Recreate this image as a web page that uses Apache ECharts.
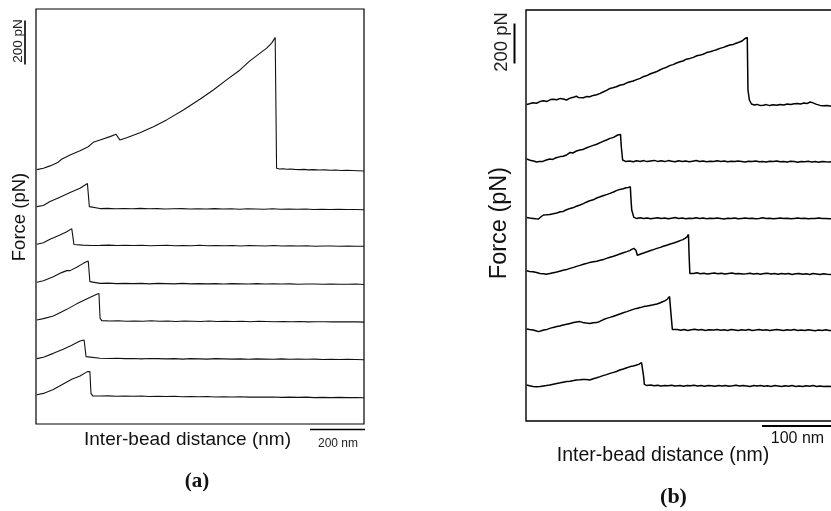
<!DOCTYPE html>
<html>
<head>
<meta charset="utf-8">
<script src="https://cdn.jsdelivr.net/npm/echarts@6/dist/echarts.min.js"></script>
<style>
html,body{margin:0;padding:0;background:#fff;overflow:hidden;width:831px;height:511px;}
#c{width:880px;height:511px;}
</style>
</head>
<body>
<div id="c"></div>
<script>
// ---------- Panel (a): force curves (x: nm, y: pN relative to curve start) ----------
const offsetsA = [1156, 988, 817, 644, 473, 297, 133];
const curveA1 = [[3,0],[27,6],[51,17],[81,34],[93,47],[124,67],[160,86],[190,104],[208,124],[233,135],[269,150],[291,161],[296,156],[305,135],[330,145],[378,168],[427,195],[475,226],[536,271],[596,320],[645,362],[693,408],[742,453],[778,494],[839,552],[857,575],[870,600],[873,600],[875,6],[885,3],[900,4],[912,2],[925,3],[940,1],[960,0],[975,1],[990,-1],[1010,0],[1030,-2],[1050,-1],[1070,-3],[1090,-2],[1110,-4],[1130,-3],[1150,-4],[1170,-5],[1193,-6]];
const curveA2 = [[3,0],[27,5],[51,23],[87,42],[124,64],[160,83],[187,105],[190,106],[194,0],[199,-8],[233,-9],[260,-8],[290,-10],[320,-9],[350,-10],[380,-8],[410,-10],[440,-9],[470,-11],[500,-10],[530,-9],[560,-11],[590,-10],[620,-11],[650,-9],[680,-11],[710,-10],[740,-12],[770,-10],[800,-11],[830,-12],[860,-10],[890,-12],[920,-11],[950,-12],[980,-11],[1010,-13],[1040,-12],[1070,-13],[1100,-12],[1130,-13],[1160,-13],[1193,-14]];
const curveA3 = [[3,0],[27,7],[51,23],[87,42],[112,57],[130,71],[133,71],[138,-1],[143,-5],[170,-4],[200,-6],[233,-5],[265,-4],[295,-6],[325,-5],[355,-6],[385,-5],[415,-7],[445,-6],[475,-5],[505,-7],[535,-6],[565,-7],[595,-5],[625,-7],[655,-6],[685,-7],[715,-6],[745,-8],[775,-6],[805,-7],[835,-8],[865,-6],[895,-8],[925,-7],[955,-8],[985,-7],[1015,-9],[1045,-8],[1075,-8],[1105,-9],[1135,-8],[1165,-9],[1193,-9]];
const curveA4 = [[3,0],[27,7],[63,25],[93,44],[112,53],[124,53],[148,68],[172,86],[190,97],[194,98],[196,3],[203,-5],[233,-5],[263,-4],[293,-6],[323,-5],[353,-6],[383,-5],[413,-7],[443,-5],[473,-6],[503,-7],[533,-5],[563,-7],[593,-6],[623,-7],[653,-6],[683,-8],[713,-6],[743,-7],[773,-8],[803,-6],[833,-8],[863,-7],[893,-8],[923,-7],[953,-9],[983,-8],[1013,-8],[1043,-9],[1073,-8],[1103,-9],[1133,-9],[1163,-8],[1193,-10]];
const curveA5 = [[3,0],[27,6],[63,18],[87,33],[112,48],[148,73],[184,95],[221,117],[229,120],[233,8],[239,-3],[269,-5],[299,-4],[329,-6],[359,-5],[389,-6],[419,-4],[449,-6],[479,-5],[509,-7],[539,-5],[569,-6],[599,-7],[629,-5],[659,-7],[689,-6],[719,-7],[749,-6],[779,-8],[809,-6],[839,-7],[869,-8],[899,-7],[929,-8],[959,-7],[989,-9],[1019,-8],[1049,-8],[1079,-9],[1109,-8],[1139,-9],[1169,-9],[1193,-10]];
const curveA6 = [[3,0],[27,6],[63,24],[99,43],[130,61],[160,80],[175,85],[178,80],[182,9],[187,2],[233,2],[263,1],[293,2],[323,0],[353,1],[383,-1],[413,1],[443,0],[473,-1],[503,0],[533,-2],[563,0],[593,-1],[623,-2],[653,0],[683,-1],[713,-2],[743,-1],[773,-3],[803,-1],[833,-2],[863,-3],[893,-1],[923,-3],[953,-2],[983,-3],[1013,-2],[1043,-4],[1073,-3],[1103,-4],[1133,-3],[1163,-4],[1193,-5]];
const curveA7 = [[3,0],[27,6],[63,24],[99,49],[130,70],[160,85],[187,105],[194,108],[196,105],[200,6],[206,-5],[233,-6],[263,-5],[293,-7],[323,-6],[353,-7],[383,-6],[413,-8],[443,-7],[473,-8],[503,-7],[533,-9],[563,-8],[593,-9],[623,-8],[653,-10],[683,-9],[713,-10],[743,-9],[773,-11],[803,-10],[833,-11],[863,-10],[893,-12],[923,-11],[953,-12],[983,-11],[1013,-13],[1043,-12],[1073,-13],[1103,-12],[1133,-13],[1163,-13],[1193,-14]];

// ---------- Panel (b): force curves ----------
const offsetsB = [1583, 1310, 1018, 751, 460, 180];
const curveB1 = [[1,0],[5,3],[10,8],[15,6],[20,14],[25,18],[30,15],[35,24],[39,26],[44,23],[49,30],[53,27],[58,22],[62,30],[65,33],[69,37],[72,41],[75,34],[77,35],[82,33],[86,39],[91,38],[96,45],[101,48],[106,55],[110,62],[115,70],[120,80],[124,83],[129,88],[134,96],[139,99],[144,108],[149,113],[153,117],[158,124],[163,130],[167,138],[172,143],[177,152],[181,157],[186,163],[191,172],[196,180],[201,186],[206,195],[210,199],[215,207],[220,213],[224,217],[229,226],[234,230],[239,235],[244,243],[249,247],[253,251],[258,259],[263,263],[268,269],[272,273],[277,280],[282,285],[286,291],[291,297],[296,300],[301,307],[306,313],[309,318],[313,330],[315,338],[316,335],[317,72],[319,22],[322,2],[326,-3],[330,0],[334,-5],[339,-4],[343,-1],[348,-6],[353,-2],[358,-4],[363,0],[368,-3],[373,2],[378,-1],[383,3],[387,5],[392,2],[397,7],[401,4],[406,12],[409,9],[411,5],[415,0],[420,-5],[425,-7],[430,-6],[436,-9],[445,-8],[457,-10]];
const curveB2 = [[1,0],[4,-4],[7,-8],[11,-10],[15,-15],[19,-13],[24,-12],[29,-5],[34,0],[38,-2],[43,6],[49,12],[53,14],[58,20],[63,33],[67,30],[72,40],[77,45],[81,47],[86,55],[91,62],[96,68],[101,74],[106,82],[110,88],[115,95],[120,103],[125,108],[131,120],[135,123],[136,65],[138,-5],[143,-13],[148,-10],[153,-14],[158,-9],[163,-12],[168,-8],[173,-13],[178,-10],[183,-7],[188,-12],[193,-9],[198,-13],[203,-8],[208,-11],[213,-14],[218,-9],[223,-12],[228,-10],[233,-14],[238,-11],[243,-8],[248,-12],[253,-10],[258,-14],[263,-11],[268,-13],[273,-9],[278,-12],[283,-10],[288,-14],[293,-11],[298,-13],[303,-10],[308,-12],[313,-15],[318,-11],[323,-13],[328,-10],[333,-14],[338,-12],[343,-15],[348,-11],[353,-13],[358,-10],[363,-14],[368,-12],[373,-15],[378,-11],[383,-13],[388,-16],[393,-12],[398,-14],[403,-11],[408,-15],[413,-13],[418,-16],[423,-12],[428,-14],[433,-15],[438,-13],[445,-15],[457,-14]];
const curveB3 = [[1,0],[5,-3],[10,-5],[14,-7],[18,-8],[21,2],[25,12],[29,13],[34,15],[39,18],[44,22],[49,28],[53,30],[58,38],[63,45],[68,49],[72,56],[77,62],[82,69],[86,76],[91,83],[96,88],[101,97],[106,103],[110,108],[115,114],[120,120],[125,127],[129,134],[134,140],[139,143],[143,148],[146,150],[149,153],[150,87],[151,37],[154,0],[158,-5],[163,-2],[168,-6],[173,-3],[178,-7],[183,-4],[188,-2],[193,-6],[198,-3],[203,-7],[208,-4],[213,-1],[218,-5],[223,-3],[228,-7],[233,-4],[238,-6],[243,-2],[248,-5],[253,-3],[258,-7],[263,-4],[268,-6],[273,-3],[278,-5],[283,-8],[288,-4],[293,-6],[298,-3],[303,-7],[308,-5],[313,-3],[318,-6],[323,-4],[328,-7],[333,-5],[338,-2],[343,-6],[348,-4],[353,-7],[358,-5],[363,-3],[368,-6],[373,-4],[378,-7],[383,-5],[388,-3],[393,-6],[398,-4],[403,-7],[408,-5],[413,-6],[418,-3],[423,-6],[428,-5],[433,-7],[438,-5],[445,-6],[457,-7]];
const curveB4 = [[1,0],[5,-3],[10,-5],[15,-9],[20,-13],[25,-15],[29,-17],[34,-14],[39,-10],[44,-6],[48,-2],[53,3],[58,6],[63,12],[68,17],[72,22],[77,27],[82,33],[86,36],[91,42],[96,45],[101,48],[106,53],[111,57],[115,62],[120,68],[125,73],[130,79],[134,84],[139,90],[144,96],[148,101],[151,107],[154,112],[156,117],[157,103],[159,78],[163,83],[168,89],[173,95],[177,100],[182,106],[187,112],[192,117],[196,123],[201,128],[206,134],[211,139],[216,145],[221,152],[224,156],[227,162],[230,170],[232,182],[233,178],[233,70],[234,-13],[239,-13],[244,-10],[249,-15],[254,-12],[259,-16],[264,-13],[269,-11],[274,-15],[279,-12],[284,-16],[289,-13],[294,-11],[299,-15],[304,-13],[309,-16],[315,-15],[320,-12],[325,-16],[330,-13],[335,-17],[340,-14],[345,-12],[350,-16],[355,-14],[360,-17],[365,-13],[370,-16],[375,-14],[380,-18],[385,-15],[390,-13],[395,-17],[400,-15],[405,-18],[410,-14],[415,-16],[420,-19],[425,-15],[430,-17],[436,-18],[445,-17],[457,-19]];
const curveB5 = [[1,0],[5,-3],[10,-5],[14,-9],[18,-13],[22,-9],[25,-5],[30,-2],[34,3],[39,8],[44,12],[48,15],[53,20],[58,24],[63,28],[68,32],[72,35],[77,37],[81,33],[86,30],[91,28],[96,31],[101,32],[106,39],[110,46],[115,53],[120,58],[125,64],[130,70],[134,75],[139,81],[144,87],[148,92],[153,98],[158,103],[163,107],[168,112],[173,115],[177,118],[182,121],[187,125],[191,130],[195,136],[199,142],[202,150],[205,162],[207,165],[207,78],[209,-2],[211,-5],[216,-2],[221,-6],[226,-3],[231,-7],[236,-4],[241,-1],[246,-5],[251,-3],[256,-7],[261,-4],[268,-5],[273,-2],[278,-6],[283,-4],[288,-7],[293,-3],[298,-5],[303,-8],[308,-4],[313,-6],[318,-3],[323,-7],[328,-5],[333,-2],[338,-6],[343,-4],[348,-7],[353,-5],[358,-3],[363,-5],[368,-8],[373,-4],[378,-6],[383,-3],[388,-7],[393,-5],[398,-8],[403,-4],[408,-6],[413,-9],[418,-5],[423,-7],[428,-4],[433,-8],[436,-8],[445,-7],[457,-9]];
const curveB6 = [[1,0],[5,-4],[10,-8],[15,-9],[20,-8],[25,-5],[29,-3],[34,0],[39,4],[44,8],[49,11],[53,14],[58,17],[63,19],[68,22],[72,25],[77,26],[81,28],[86,27],[91,25],[96,31],[101,36],[106,42],[110,47],[115,52],[120,58],[125,63],[130,69],[134,75],[139,80],[144,86],[149,92],[153,95],[157,99],[161,103],[163,107],[165,112],[167,108],[168,42],[169,3],[173,-3],[178,0],[183,-4],[188,-1],[193,-5],[198,-2],[203,-4],[208,-1],[213,-5],[220,-3],[225,-6],[230,-2],[235,-4],[240,-1],[245,-5],[250,-3],[255,-6],[260,-2],[265,-4],[270,-6],[275,-3],[280,-5],[285,-2],[290,-6],[295,-4],[300,-1],[305,-5],[310,-3],[315,-5],[320,-7],[325,-3],[330,-5],[335,-2],[340,-6],[345,-4],[350,-7],[355,-3],[360,-5],[365,-8],[370,-4],[375,-6],[380,-3],[385,-7],[390,-5],[395,-8],[400,-4],[405,-6],[410,-3],[415,-7],[420,-5],[425,-8],[430,-6],[436,-8],[445,-7],[457,-9]];

// axis extents and scale bar values
const xMaxA = 1193, yMaxA = 1886;
const xMaxB = 457, yMaxB = 2055;
const scaleForce = 200;   // pN
const scaleDistA = 200;   // nm
const scaleDistB = 100;   // nm

const curvesA = [curveA1, curveA2, curveA3, curveA4, curveA5, curveA6, curveA7];
const curvesB = [curveB1, curveB2, curveB3, curveB4, curveB5, curveB6];

function shift(arr, off) { return arr.map(p => [p[0], p[1] + off]); }

const series = [];
curvesA.forEach((c, i) => series.push({
  type: 'line', xAxisIndex: 0, yAxisIndex: 0, data: shift(c, offsetsA[i]),
  showSymbol: false, symbol: 'none', silent: true,
  lineStyle: { color: '#111', width: 1.1 }
}));
curvesB.forEach((c, i) => series.push({
  type: 'line', xAxisIndex: 1, yAxisIndex: 1, data: shift(c, offsetsB[i]),
  showSymbol: false, symbol: 'none', silent: true,
  lineStyle: { color: '#000', width: 1.5 }
}));

const hiddenAxis = { show: false, type: 'value', splitLine: { show: false } };

const chart = echarts.init(document.getElementById('c'), null, { renderer: 'canvas' });
chart.setOption({
  animation: false,
  backgroundColor: '#fff',
  grid: [
    { left: 36, top: 9, width: 328, height: 415, show: true, borderColor: '#000', borderWidth: 1.2, backgroundColor: 'transparent' },
    { left: 526, top: 10, width: 320, height: 411, show: true, borderColor: '#000', borderWidth: 1.4, backgroundColor: 'transparent' }
  ],
  xAxis: [
    Object.assign({}, hiddenAxis, { gridIndex: 0, min: 0, max: xMaxA }),
    Object.assign({}, hiddenAxis, { gridIndex: 1, min: 0, max: xMaxB })
  ],
  yAxis: [
    Object.assign({}, hiddenAxis, { gridIndex: 0, min: 0, max: yMaxA }),
    Object.assign({}, hiddenAxis, { gridIndex: 1, min: 0, max: yMaxB })
  ],
  series: series
});

// scale bars from axis scales
const a0 = chart.convertToPixel({ gridIndex: 0 }, [0, 0]);
const a1 = chart.convertToPixel({ gridIndex: 0 }, [scaleDistA, scaleForce]);
const b0 = chart.convertToPixel({ gridIndex: 1 }, [0, 0]);
const b1 = chart.convertToPixel({ gridIndex: 1 }, [scaleDistB, scaleForce]);
const lxA = a1[0] - a0[0], lyA = a0[1] - a1[1];
const lxB = b1[0] - b0[0], lyB = b0[1] - b1[1];

const sans = 'Liberation Sans, Arial, sans-serif';
const serif = 'Liberation Serif, Times New Roman, serif';
function txt(x, y, text, size, opts) {
  opts = opts || {};
  return {
    type: 'text', x: x, y: y, rotation: opts.rot || 0, silent: true,
    style: { text: text, x: 0, y: 0, fill: opts.color || '#111', font: (opts.weight || 'normal') + ' ' + size + 'px ' + (opts.family || sans),
      align: 'center', verticalAlign: 'middle' }
  };
}
function ln(x1, y1, x2, y2, w) {
  return { type: 'line', silent: true, shape: { x1: x1, y1: y1, x2: x2, y2: y2 }, style: { stroke: '#000', lineWidth: w } };
}

chart.setOption({
  graphic: [
    // panel (a)
    ln(25, 20.5, 25, 20.5 + lyA, 1.6),
    txt(18.5, 41, '200 pN', 13.5, { rot: Math.PI / 2, color: '#222' }),
    txt(19.5, 217, 'Force (pN)', 18.5, { rot: Math.PI / 2 }),
    txt(187.5, 440, 'Inter-bead distance (nm)', 19),
    ln(365 - lxA, 429.5, 365, 429.5, 1.6),
    txt(338, 443.5, '200 nm', 12, { color: '#222' }),
    txt(197, 482, '(a)', 21, { weight: 'bold', family: serif }),
    // panel (b)
    ln(514.5, 23.5, 514.5, 23.5 + lyB, 2),
    txt(502, 42, '200 pN', 18.5, { rot: Math.PI / 2, color: '#222' }),
    txt(500, 223, 'Force (pN)', 23.5, { rot: Math.PI / 2 }),
    txt(663, 456, 'Inter-bead distance (nm)', 19.5),
    ln(762, 426, 762 + lxB, 426, 2),
    txt(797.5, 438.5, '100 nm', 16),
    txt(673.5, 497, '(b)', 22, { weight: 'bold', family: serif })
  ]
});
</script>
</body>
</html>
